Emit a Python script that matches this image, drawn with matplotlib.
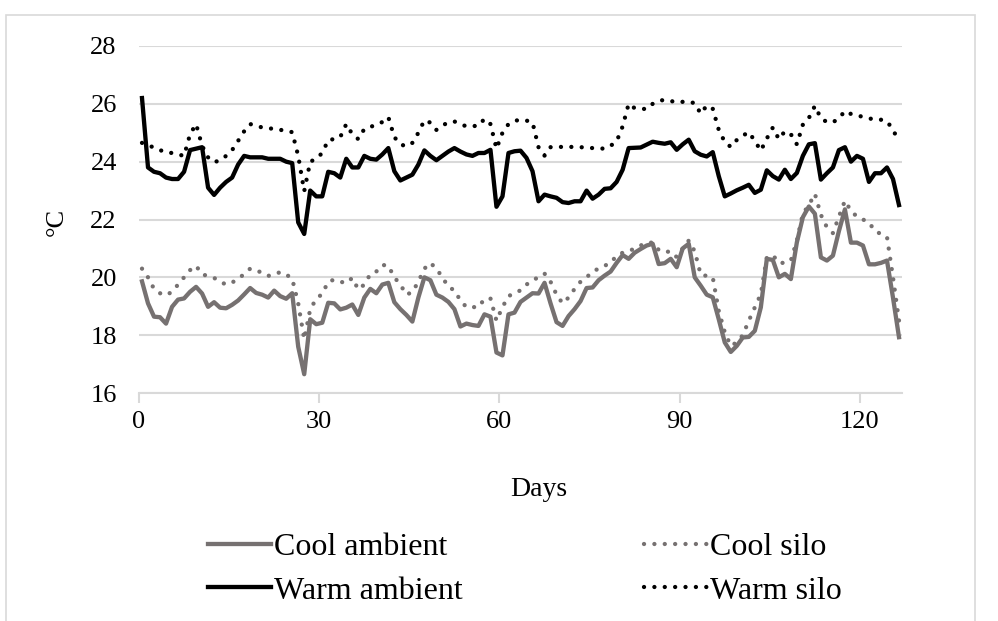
import numpy as np
import matplotlib
matplotlib.use("Agg")
import matplotlib.pyplot as plt
from matplotlib.patches import Rectangle

# ---------------- data (daily readings, day index i plotted at i + 0.5) ----------------
cool_ambient = [
    19.86, 19.1, 18.64, 18.62, 18.4, 18.98, 19.23, 19.27, 19.5, 19.67,
    19.44, 18.98, 19.14, 18.95, 18.93, 19.05, 19.2, 19.41, 19.63, 19.46,
    19.4, 19.3, 19.54, 19.35, 19.26, 19.45, 17.6, 16.65, 18.55, 18.38,
    18.43, 19.12, 19.1, 18.89, 18.95, 19.06, 18.7, 19.3, 19.6, 19.45,
    19.75, 19.81, 19.14, 18.9, 18.7, 18.47, 19.3, 20.0, 19.9, 19.4,
    19.3, 19.15, 18.9, 18.3, 18.4, 18.35, 18.32, 18.72, 18.64, 17.4,
    17.3, 18.72, 18.78, 19.15, 19.3, 19.45, 19.44, 19.81, 19.1, 18.45,
    18.32, 18.66, 18.9, 19.18, 19.63, 19.65, 19.9, 20.06, 20.2, 20.5,
    20.77, 20.64, 20.85, 20.98, 21.1, 21.16, 20.46, 20.49, 20.64, 20.35,
    21.0, 21.16, 20.0, 19.71, 19.4, 19.31, 18.55, 17.75, 17.42, 17.63,
    17.92, 17.94, 18.15, 18.96, 20.64, 20.6, 20.0, 20.12, 19.94, 21.21,
    22.08, 22.45, 22.2, 20.69, 20.58, 20.75, 21.6, 22.35, 21.2, 21.2,
    21.1, 20.45, 20.45, 20.5, 20.58, 19.3, 17.93,
]

cool_silo = [
    20.3, 20.0, 19.6, 19.45, 19.38, 19.5, 19.75, 20.0, 20.25, 20.4,
    20.1, 20.05, 19.98, 19.85, 19.75, 19.82, 19.95, 20.11, 20.3, 20.25,
    20.15, 20.05, 20.1, 20.18, 20.1, 19.95, 19.1, 17.86, 18.9, 19.25,
    19.43, 19.85, 19.92, 19.85, 19.8, 19.98, 19.58, 19.75, 20.11, 20.2,
    20.43, 20.4, 20.0, 19.75, 19.4, 19.49, 19.85, 20.3, 20.5, 20.3,
    20.0, 19.67, 19.55, 19.2, 18.97, 18.97, 18.97, 19.25, 19.27, 18.5,
    18.97, 19.35, 19.45, 19.55, 19.75, 19.9, 20.0, 20.13, 19.85, 19.4,
    19.1, 19.3, 19.6, 19.85, 20.0, 20.2, 20.3, 20.4, 20.5, 20.75,
    20.85, 20.9, 21.0, 21.1, 21.2, 21.2, 20.95, 20.87, 20.9, 20.7,
    21.0, 21.27, 20.9, 20.09, 20.05, 20.0, 18.84, 18.1, 17.63, 17.75,
    18.0, 18.5, 18.96, 19.42, 20.69, 20.77, 20.5, 20.5, 20.58, 21.27,
    22.2, 22.5, 22.89, 22.16, 21.73, 21.53, 22.1, 22.65, 22.3, 22.1,
    22.0, 21.9, 21.6, 21.5, 21.4, 20.0, 18.5,
]

warm_ambient = [
    26.2, 23.8, 23.65, 23.6, 23.45, 23.4, 23.4, 23.65, 24.4, 24.45,
    24.5, 23.1, 22.85, 23.1, 23.3, 23.45, 23.9, 24.2, 24.15, 24.15,
    24.15, 24.1, 24.1, 24.1, 24.0, 23.95, 21.9, 21.5, 23.0, 22.8,
    22.8, 23.65, 23.6, 23.45, 24.1, 23.8, 23.8, 24.2, 24.1, 24.07,
    24.25, 24.47, 23.67, 23.35, 23.45, 23.55, 23.9, 24.39, 24.2, 24.05,
    24.2, 24.35, 24.47, 24.35, 24.25, 24.2, 24.3, 24.3, 24.41, 22.44,
    22.8, 24.3, 24.36, 24.38, 24.13, 23.67, 22.63, 22.86, 22.8, 22.75,
    22.6, 22.57, 22.63, 22.63, 23.0, 22.72, 22.86, 23.06, 23.08, 23.3,
    23.72, 24.47, 24.48, 24.49, 24.59, 24.69, 24.65, 24.62, 24.67, 24.41,
    24.6, 24.76, 24.36, 24.24, 24.18, 24.33, 23.5, 22.8, 22.9, 23.01,
    23.1, 23.2, 22.92, 23.03, 23.7, 23.5, 23.38, 23.72, 23.4, 23.61,
    24.2, 24.6, 24.64, 23.38, 23.6, 23.8, 24.4, 24.5, 24.0, 24.2,
    24.1, 23.3, 23.6, 23.6, 23.8, 23.4, 22.5,
]

warm_silo = [
    24.65, 24.55, 24.5, 24.4, 24.32, 24.3, 24.25, 24.2, 24.95, 25.3,
    24.55, 24.15, 23.98, 24.05, 24.2, 24.4, 24.72, 25.05, 25.3, 25.25,
    25.18, 25.15, 25.14, 25.1, 25.07, 25.02, 24.2, 22.98, 24.0, 24.1,
    24.3, 24.75, 24.78, 24.85, 25.3, 24.95, 24.78, 25.13, 25.2, 25.28,
    25.37, 25.54, 24.85, 24.6, 24.53, 24.65, 25.0, 25.43, 25.35, 25.1,
    25.25, 25.36, 25.39, 25.3, 25.22, 25.23, 25.24, 25.48, 25.3, 24.45,
    25.0, 25.3, 25.41, 25.45, 25.42, 25.36, 24.5, 24.21, 24.5, 24.51,
    24.51, 24.51, 24.51, 24.5, 24.49, 24.47, 24.46, 24.45, 24.55, 24.7,
    25.22, 26.0, 25.85, 25.83, 25.82, 26.0, 26.1, 26.14, 26.1, 26.05,
    26.07, 26.08, 26.02, 25.66, 25.94, 25.83, 25.1, 24.68, 24.51, 24.75,
    24.9, 25.02, 24.72, 24.38, 24.8, 25.18, 24.78, 25.05, 24.95, 24.6,
    25.28, 25.51, 25.93, 25.5, 25.37, 25.36, 25.5, 25.75, 25.65, 25.6,
    25.55, 25.5, 25.45, 25.45, 25.4, 25.1, 24.7,
]

series_labels = ["Cool ambient", "Cool silo", "Warm ambient", "Warm silo"]
x_ticks = [0, 30, 60, 90, 120]
y_ticks = [16, 18, 20, 22, 24, 26, 28]
x_label = "Days"
y_label = "\u00b0C"

# ---------------- styling ----------------
plt.rcParams["font.family"] = ["Liberation Serif", "DejaVu Serif"]
GRAY = "#767171"
BLACK = "#000000"
GRID = "#D9D9D9"
LW = 3.1

fig = plt.figure(figsize=(9.98, 6.21), dpi=100)
ax = fig.add_axes([139 / 998, 1 - 393 / 621, (902 - 139) / 998, (393 - 46) / 621])

days = np.arange(len(cool_ambient)) + 0.5

dot = (0, (0.01, 2.4))
l_ca, = ax.plot(days, cool_ambient, color=GRAY, lw=LW, solid_joinstyle="round", label=series_labels[0])
l_cs, = ax.plot(days, cool_silo, color=GRAY, lw=LW, linestyle=dot, dash_capstyle="round", label=series_labels[1])
l_wa, = ax.plot(days, warm_ambient, color=BLACK, lw=LW, solid_joinstyle="round", label=series_labels[2])
l_ws, = ax.plot(days, warm_silo, color=BLACK, lw=LW, linestyle=dot, dash_capstyle="round", label=series_labels[3])

ax.set_xlim(0, 127)
ax.set_ylim(16, 28)
ax.set_xticks(x_ticks)
ax.set_yticks(y_ticks)
ax.yaxis.grid(True, color=GRID, lw=1.5)
ax.set_axisbelow(True)
for s in ["top", "right", "left"]:
    ax.spines[s].set_visible(False)
ax.spines["bottom"].set_color(GRID)
ax.spines["bottom"].set_linewidth(1.5)
ax.tick_params(axis="x", length=7, width=1.5, color=GRID, labelsize=19, pad=6, labelcolor="#000000")
ax.tick_params(axis="y", length=0, labelsize=19, pad=16, labelcolor="#000000")

fig.text(539 / 998, 1 - 490 / 621, x_label, ha="center", va="center", fontsize=20)
fig.text(57 / 998, 1 - 222 / 621, y_label, ha="center", va="center", rotation=90, fontsize=19)

handles = [l_ca, l_wa, l_cs, l_ws]
labels = [series_labels[0], series_labels[2], series_labels[1], series_labels[3]]
fig.legend(handles, labels, ncol=2, loc="center left",
           bbox_to_anchor=(186 / 998, 1 - 569 / 621), frameon=False, fontsize=23,
           handlelength=1.97, handletextpad=0.1, columnspacing=5.65, labelspacing=0.45,
           borderpad=0.2)

fig.patches.append(Rectangle((6 / 998, -10 / 621), (975 - 6) / 998, (606 + 10) / 621,
                             transform=fig.transFigure, fill=False, edgecolor=GRID, lw=1.2))

fig.savefig("out.png", dpi=100)
